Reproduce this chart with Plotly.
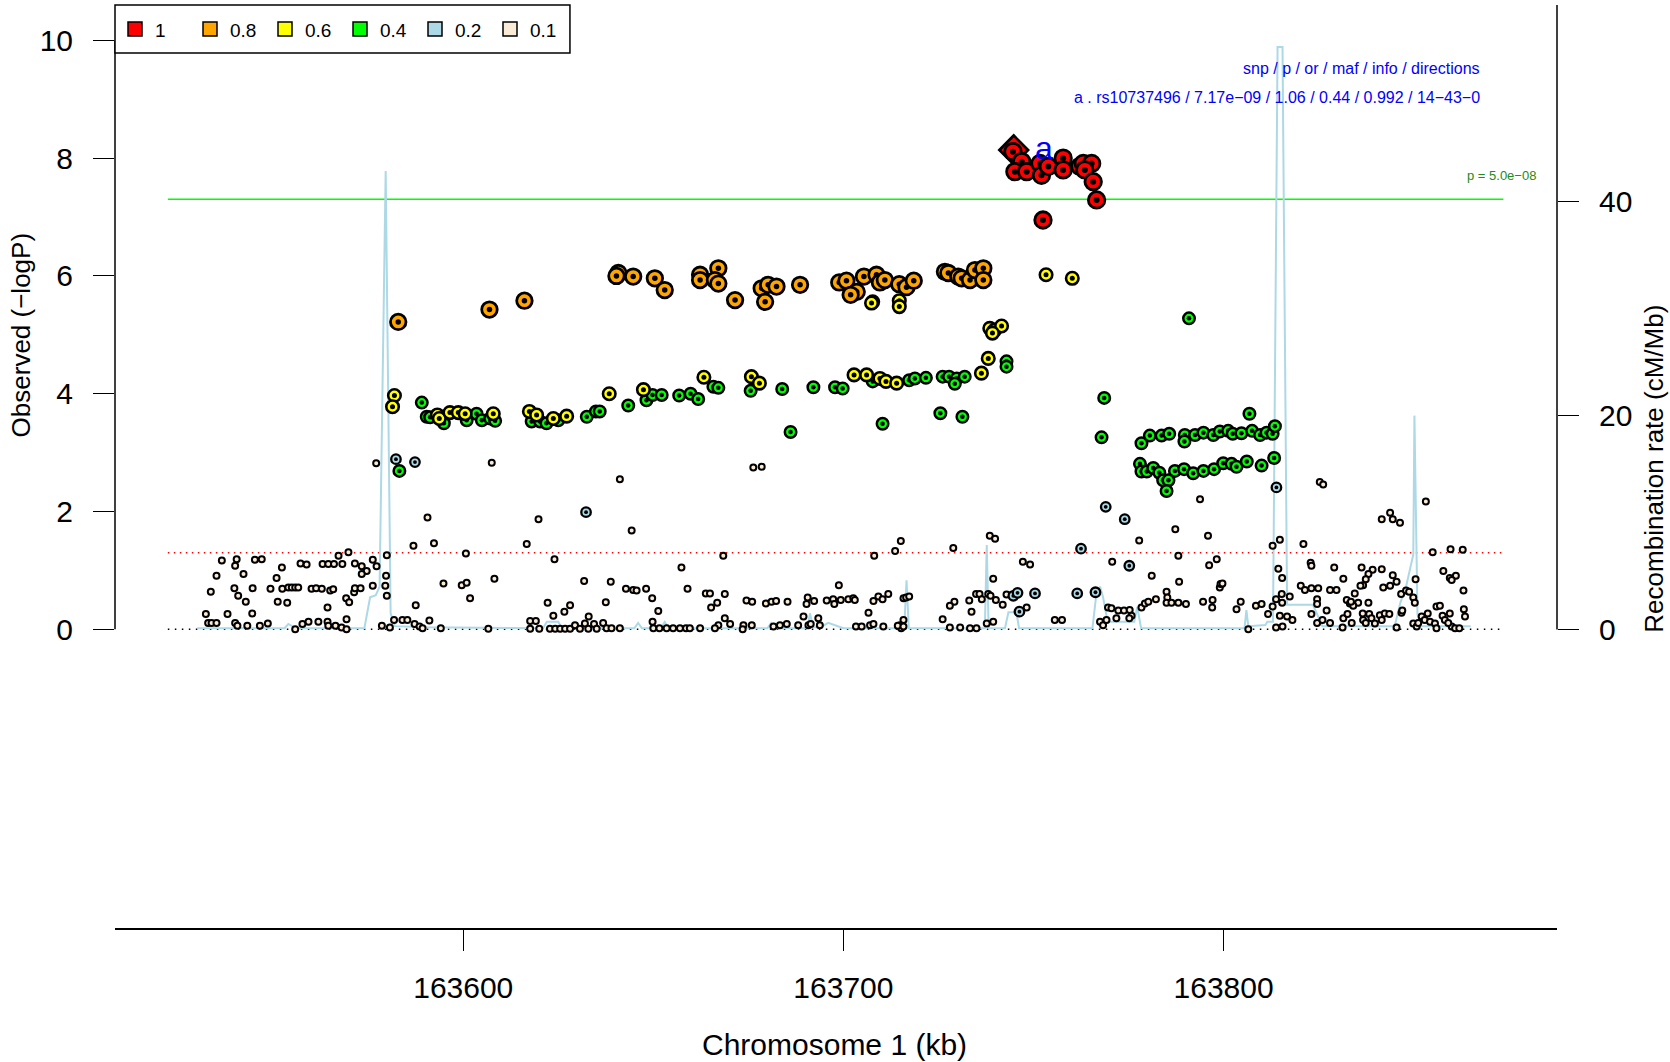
import plotly.graph_objects as go

# ---------------- data (kb positions, -log10 P) ----------------
index_kb = [163744.8]
index_lp = [8.14]

red_kb = [163744.6, 163746.9, 163745.1, 163748.2, 163751.7, 163752.1, 163753.9, 163757.8, 163757.8,
          163762.2, 163763.1, 163765.3, 163763.5, 163765.7, 163766.6, 163752.5]
red_lp = [8.11, 7.94, 7.77, 7.77, 7.91, 7.71, 7.86, 8.00, 7.80,
          7.86, 7.91, 7.91, 7.80, 7.60, 7.29, 6.95]

orange_kb = [163582.9, 163606.9, 163616.1,
             163640.8, 163640.3, 163644.7, 163650.4, 163653.0, 163662.3, 163662.3, 163667.1, 163666.2,
             163667.1, 163671.5, 163678.5, 163680.2, 163682.4, 163679.4, 163688.6, 163698.9, 163700.8,
             163703.5, 163701.9, 163705.4, 163708.7, 163709.6, 163710.9, 163714.7, 163716.6, 163718.5,
             163726.7, 163727.6, 163730.2, 163731.1, 163733.3, 163734.6, 163736.8, 163736.8]
orange_lp = [5.22, 5.43, 5.58,
             6.05, 6.00, 5.99, 5.96, 5.76, 6.02, 5.93, 6.13, 5.93,
             5.87, 5.59, 5.79, 5.85, 5.82, 5.56, 5.85, 5.89, 5.92,
             5.73, 5.68, 5.99, 6.02, 5.89, 5.93, 5.86, 5.81, 5.92,
             6.07, 6.05, 5.99, 5.96, 5.93, 6.10, 6.13, 5.93]

yellow_kb = [163581.9, 163581.4, 163593.2, 163593.7, 163596.5, 163598.7, 163600.5, 163607.9, 163617.4,
             163619.3, 163623.7, 163627.2, 163638.4, 163647.4, 163663.3, 163675.8, 163677.9, 163702.8,
             163706.1, 163709.6, 163711.2, 163714.0, 163736.3, 163738.1, 163738.5, 163739.8, 163741.6,
             163739.2, 163707.7, 163707.4, 163714.7, 163714.7, 163753.3, 163760.2]
yellow_lp = [3.97, 3.78, 3.64, 3.58, 3.68, 3.68, 3.66, 3.66, 3.70,
             3.64, 3.58, 3.62, 4.00, 4.07, 4.28, 4.29, 4.18, 4.32,
             4.32, 4.26, 4.21, 4.18, 4.35, 4.60, 5.11, 5.08, 5.15,
             5.03, 5.56, 5.54, 5.58, 5.48, 6.02, 5.96]

green_kb = [163583.2, 163589.1, 163590.4, 163591.3, 163594.9, 163600.9, 163603.5, 163604.9, 163607.1,
            163608.4, 163618.0, 163620.2, 163621.9, 163625.0, 163632.5, 163634.9, 163635.9, 163643.4,
            163648.2, 163649.8, 163652.2, 163656.8, 163659.8, 163661.8, 163665.8, 163667.1, 163675.6,
            163683.9, 163692.1, 163697.8, 163699.8, 163707.7, 163717.3, 163718.8, 163721.7, 163726.1,
            163727.8, 163729.8, 163731.9, 163729.3, 163686.1, 163710.3, 163725.5, 163731.3, 163742.9,
            163742.9, 163790.9, 163768.6, 163767.9,
            163778.4, 163780.6, 163783.7, 163785.7, 163789.8, 163789.7, 163792.5, 163794.7, 163797.3,
            163799.0, 163801.2, 163802.4, 163804.7, 163807.5, 163809.6, 163811.3, 163812.9, 163813.5,
            163806.8,
            163778.0, 163778.4, 163779.8, 163781.5, 163783.1, 163784.1, 163785.5, 163785.0, 163787.2,
            163789.6, 163792.0, 163794.7, 163797.5, 163799.9, 163802.1, 163803.4, 163806.1, 163810.0,
            163813.3]
green_lp = [2.69, 3.85, 3.61, 3.60, 3.50, 3.55, 3.66, 3.55, 3.58,
            3.54, 3.53, 3.53, 3.50, 3.55, 3.61, 3.70, 3.70, 3.80,
            3.89, 3.98, 3.98, 3.97, 4.00, 3.91, 4.12, 4.10, 4.05,
            4.08, 4.11, 4.11, 4.09, 4.21, 4.23, 4.26, 4.27, 4.29,
            4.29, 4.26, 4.29, 4.17, 3.35, 3.49, 3.67, 3.61, 4.55,
            4.46, 5.28, 3.93, 3.26,
            3.16, 3.29, 3.29, 3.32, 3.30, 3.19, 3.30, 3.34, 3.30,
            3.36, 3.37, 3.32, 3.33, 3.37, 3.30, 3.34, 3.32, 3.45,
            3.66,
            2.81, 2.68, 2.68, 2.74, 2.66, 2.53, 2.53, 2.35, 2.69,
            2.72, 2.65, 2.69, 2.72, 2.82, 2.81, 2.76, 2.85, 2.78,
            2.91]

lblue_kb = [163582.3, 163587.3, 163632.3, 163744.7, 163745.8, 163746.3, 163750.4, 163761.5, 163766.3,
            163762.5, 163775.2, 163769.0, 163774.0, 163813.9]
lblue_lp = [2.89, 2.84, 1.99, 0.57, 0.62, 0.30, 0.61, 0.61, 0.63,
            1.37, 1.08, 2.08, 1.87, 2.41]

low_kb = [
    163577.1, 163607.5, 163590.6, 163619.8, 163586.9, 163592.3, 163616.7, 163600.7, 163579.9, 163624.0,
    163569.8, 163567.2, 163536.5, 163540.4, 163540.0, 163545.2, 163547.0, 163535.1, 163542.2, 163552.3,
    163550.9, 163557.2, 163558.8, 163563.0, 163564.5, 163566.0, 163568.2, 163571.5, 163573.3, 163574.6,
    163576.2, 163577.2, 163573.3, 163579.7, 163579.5, 163579.9, 163533.6, 163539.8, 163540.8, 163544.6,
    163542.8, 163549.3, 163552.4, 163554.0, 163554.9, 163555.8, 163556.6, 163560.1, 163561.3, 163562.8,
    163565.0, 163565.8, 163551.2, 163553.7, 163564.3, 163569.2, 163570.0, 163571.3, 163571.5, 163573.0,
    163576.2, 163532.3, 163538.0, 163544.5, 163587.5, 163594.8, 163599.6, 163600.9, 163601.8, 163608.2,
    163606.6, 163622.2, 163623.7, 163626.6, 163628.1, 163631.8, 163633.0,
    163532.9, 163533.8, 163535.1, 163540.0, 163540.6, 163543.2, 163546.5, 163548.6, 163555.8, 163557.7,
    163559.3, 163561.9, 163564.3, 163564.5, 163566.4, 163568.0, 163569.3, 163569.3, 163578.6, 163580.7,
    163581.8, 163584.0, 163585.3, 163587.2, 163588.5, 163589.3, 163591.1, 163594.1, 163617.6, 163619.1,
    163617.6, 163620.0, 163622.8, 163624.2, 163625.5, 163626.8, 163628.1, 163629.4, 163630.7, 163632.0,
    163632.9, 163634.4, 163635.1,
    163641.2, 163644.3, 163676.3, 163678.5, 163668.4, 163657.4, 163638.8, 163637.5, 163642.8, 163644.7,
    163645.6, 163648.1, 163649.7, 163651.3, 163659.0, 163663.8, 163664.9, 163665.2, 163666.8, 163668.8,
    163668.8, 163670.2, 163667.1, 163666.2, 163674.5, 163676.0, 163679.6, 163681.1, 163682.3, 163685.3,
    163698.8, 163690.6, 163690.3, 163692.3, 163695.6, 163697.3, 163697.6, 163699.3, 163701.3, 163702.6,
    163703.0, 163707.9, 163709.2, 163710.3, 163711.8, 163706.6, 163708.1, 163713.6, 163715.1, 163715.8,
    163716.5, 163717.3, 163715.8, 163714.9, 163715.2, 163728.9, 163729.2, 163728.0, 163726.1, 163728.0,
    163730.7, 163733.3, 163735.0, 163733.1, 163733.7, 163734.9, 163735.8, 163736.4, 163738.1, 163738.7,
    163740.1, 163738.5, 163739.9, 163739.4, 163741.9, 163742.9, 163737.7, 163739.4, 163747.2, 163749.1,
    163748.2,
    163636.8, 163637.7, 163639.0, 163641.2, 163649.8, 163650.0, 163651.6, 163653.5, 163655.2, 163657.0,
    163658.6, 163659.6, 163662.3, 163673.7, 163673.5, 163675.9, 163681.6, 163683.3, 163685.1, 163688.1,
    163689.5, 163690.8, 163691.4, 163693.4, 163693.8, 163703.3, 163704.8, 163707.0, 163707.9, 163710.5,
    163714.3, 163715.8,
    163793.8, 163825.3, 163826.2, 163853.2, 163841.6, 163843.8, 163844.5, 163846.4, 163787.3, 163795.9,
    163777.8, 163812.9, 163814.8, 163821.0, 163855.0, 163859.7, 163862.9, 163770.7, 163788.1, 163796.2,
    163798.2, 163781.1, 163788.3, 163799.5, 163799.0, 163814.4, 163815.4, 163822.9, 163823.1, 163829.1,
    163831.5, 163836.3, 163839.2, 163841.6, 163838.1, 163837.4, 163836.7, 163836.0, 163842.0, 163843.8,
    163844.5, 163845.5, 163846.7, 163848.0, 163848.8, 163849.9, 163850.3, 163850.5, 163857.8, 163859.5,
    163861.1, 163860.0, 163863.1, 163820.3, 163821.4, 163823.1, 163824.9, 163828.0, 163829.7, 163834.5,
    163832.4, 163833.2, 163835.4, 163838.1, 163824.6, 163824.6, 163785.0, 163785.2, 163785.0, 163786.3,
    163788.1, 163790.1, 163794.6, 163797.1, 163797.0, 163799.2, 163799.7, 163778.4, 163779.3, 163780.2,
    163782.2, 163769.6, 163770.5, 163772.3, 163773.8, 163775.3, 163775.8, 163775.2, 163771.8, 163767.5,
    163768.3, 163769.2, 163755.6, 163757.5, 163804.5, 163803.4, 163808.5, 163810.0, 163811.7, 163812.9,
    163813.8, 163815.3, 163815.4, 163817.4, 163806.5, 163813.8, 163815.5, 163814.8, 163816.7, 163818.1,
    163823.1, 163824.6, 163826.0, 163827.1, 163828.0, 163831.3, 163831.5, 163832.6, 163833.7, 163834.1,
    163833.5, 163836.6, 163836.7, 163837.4, 163838.3, 163838.9, 163839.8, 163841.1, 163841.6, 163842.4,
    163843.6, 163845.5, 163846.8, 163847.0, 163849.9, 163850.8, 163851.2, 163852.1, 163852.9, 163853.7,
    163854.3, 163855.6, 163856.0, 163856.0, 163856.9, 163857.6, 163858.2, 163859.5, 163860.0, 163860.9,
    163862.0, 163863.2, 163863.5, 163859.1]
low_lp = [
    2.82, 2.83, 1.90, 1.87, 1.42, 1.46, 1.45, 1.29, 1.26, 1.19,
    1.31, 1.25, 1.17, 1.19, 1.08, 1.18, 1.19, 0.91, 0.94, 1.05,
    0.87, 1.12, 1.10, 1.11, 1.11, 1.11, 1.11, 1.12, 1.07, 0.99,
    1.18, 1.07, 0.94, 0.91, 0.74, 0.57, 0.64, 0.70, 0.57, 0.70,
    0.47, 0.69, 0.69, 0.71, 0.71, 0.71, 0.71, 0.69, 0.70, 0.69,
    0.66, 0.68, 0.47, 0.45, 0.37, 0.53, 0.46, 0.63, 0.70, 0.70,
    0.74, 0.26, 0.26, 0.27, 0.41, 0.78, 0.75, 0.79, 0.53, 0.86,
    0.01, 0.45, 0.23, 0.30, 0.41, 0.82, 0.22,
    0.11, 0.11, 0.11, 0.11, 0.06, 0.06, 0.06, 0.10, 0.00, 0.09,
    0.13, 0.13, 0.13, 0.06, 0.06, 0.03, 0.00, 0.17, 0.06, 0.03,
    0.16, 0.16, 0.16, 0.09, 0.05, 0.02, 0.15, 0.02, 0.14, 0.14,
    0.01, 0.01, 0.01, 0.01, 0.01, 0.01, 0.01, 0.07, 0.01, 0.10,
    0.01, 0.09, 0.01,
    2.55, 1.68, 2.75, 2.76, 1.25, 1.05, 0.81, 0.46, 0.69, 0.67,
    0.66, 0.69, 0.53, 0.31, 0.69, 0.61, 0.61, 0.37, 0.45, 0.60,
    0.19, 0.09, 0.07, 0.02, 0.49, 0.47, 0.44, 0.47, 0.48, 0.47,
    0.75, 0.54, 0.43, 0.48, 0.49, 0.51, 0.43, 0.50, 0.51, 0.53,
    0.50, 0.48, 0.56, 0.51, 0.60, 0.28, 1.25, 1.33, 1.50, 0.53,
    0.54, 0.56, 0.16, 0.07, 0.02, 1.38, 0.47, 0.40, 0.17, 0.03,
    0.03, 0.02, 0.02, 0.49, 0.30, 0.60, 0.60, 0.51, 0.60, 0.57,
    0.50, 1.59, 1.54, 0.86, 0.42, 0.59, 0.10, 0.13, 1.15, 1.10,
    0.37,
    0.11, 0.02, 0.02, 0.02, 0.13, 0.02, 0.02, 0.02, 0.02, 0.02,
    0.02, 0.02, 0.02, 0.07, 0.00, 0.07, 0.05, 0.07, 0.09, 0.07,
    0.22, 0.07, 0.09, 0.19, 0.07, 0.05, 0.05, 0.07, 0.09, 0.05,
    0.06, 0.05,
    2.21, 2.50, 2.46, 2.17, 1.87, 1.98, 1.87, 1.81, 1.70, 1.59,
    1.51, 1.42, 1.52, 1.45, 1.31, 1.36, 1.35, 1.15, 1.25, 1.09,
    1.19, 0.91, 0.81, 0.77, 0.71, 1.03, 0.87, 1.13, 1.08, 1.05,
    0.86, 1.05, 1.01, 1.02, 0.94, 0.85, 0.75, 0.74, 0.71, 0.74,
    0.92, 0.81, 0.60, 0.66, 0.64, 0.54, 0.45, 0.85, 0.99, 0.87,
    0.91, 0.84, 0.66, 0.74, 0.67, 0.70, 0.70, 0.67, 0.67, 0.61,
    0.50, 0.44, 0.45, 0.45, 0.51, 0.43, 0.64, 0.54, 0.45, 0.45,
    0.45, 0.43, 0.47, 0.50, 0.37, 0.77, 0.78, 0.37, 0.44, 0.47,
    0.51, 0.37, 0.36, 0.32, 0.32, 0.33, 0.23, 0.19, 0.19, 0.13,
    0.07, 0.16, 0.16, 0.16, 0.47, 0.34, 0.40, 0.43, 0.26, 0.39,
    0.51, 0.60, 0.45, 0.56, 0.00, 0.03, 0.05, 0.23, 0.22, 0.16,
    0.26, 0.11, 0.16, 0.32, 0.11, 0.03, 0.19, 0.26, 0.11, 0.40,
    0.47, 0.27, 0.16, 0.11, 0.26, 0.19, 0.10, 0.24, 0.16, 0.27,
    0.26, 0.03, 0.28, 0.32, 0.10, 0.05, 0.11, 0.22, 0.16, 0.27,
    0.13, 0.10, 0.02, 0.39, 0.40, 0.23, 0.16, 0.27, 0.05, 0.02,
    0.02, 0.34, 0.22, 0.11]

rec_kb = [163530, 163553, 163554, 163556, 163574, 163575.5, 163577, 163578, 163579.6, 163580.9,
          163582, 163590, 163621, 163622, 163625, 163626, 163645, 163646, 163647, 163652,
          163653, 163654, 163680, 163681, 163682, 163690.5, 163691.2, 163692, 163694, 163696,
          163700, 163716, 163716.6, 163717.2, 163737.2, 163737.7, 163738.2, 163742.5, 163743.4, 163745.5,
          163746.2, 163765.5, 163766.5, 163767.5, 163768.3, 163769.5, 163776.5, 163777.3, 163778.3, 163805.5,
          163806.0, 163806.5, 163811, 163811.5, 163813.0, 163814.2, 163815.5, 163816.7, 163823.5, 163826,
          163845, 163846.5, 163848, 163849.9, 163850.2, 163851, 163852, 163865]
rec_rate = [0.1, 0.1, 0.5, 0.1, 0.1, 3.0, 3.2, 4.0, 42.9, 1.5,
            0.3, 0.2, 0.1, 0.7, 0.7, 0.1, 0.1, 0.6, 0.1, 0.1,
            0.7, 0.1, 0.1, 0.6, 0.1, 0.1, 1.5, 0.2, 0.2, 0.6,
            0.1, 0.1, 4.6, 0.1, 0.1, 7.9, 0.1, 0.1, 1.6, 1.6,
            0.1, 0.1, 3.2, 4.0, 3.0, 0.7, 0.7, 2.1, 0.1, 0.1,
            1.8, 0.3, 0.4, 0.7, 0.7, 54.5, 54.5, 2.3, 2.3, 0.3,
            0.3, 2.5, 4.0, 7.0, 20.0, 1.4, 0.3, 0.3]

ld_labels = ["1", "0.8", "0.6", "0.4", "0.2", "0.1"]
ld_colors = ["#FF0000", "#FFA500", "#FFFF00", "#00FF00", "#ADD8E6", "#FAEBD7"]

sig_p = 7.30103      # -log10(5e-8)
sug_p = 1.30103      # -log10(0.05)
x_tick_vals = [163600, 163700, 163800]
x_tick_text = ["163600", "163700", "163800"]
line_span = [163522.3, 163873.6]

FONT = "Liberation Sans, Arial, Helvetica, sans-serif"


def ring_dot(kb, lp, fill, size, lw, dot):
    xs, ys, ss, cs, ws = [], [], [], [], []
    for a, b in zip(kb, lp):
        xs += [a, a]
        ys += [b, b]
        ss += [size, dot]
        cs += [fill, "black"]
        ws += [lw, 0]
    return go.Scatter(x=xs, y=ys, yaxis="y2", mode="markers", showlegend=False, hoverinfo="skip",
                      marker=dict(symbol="circle", size=ss, color=cs, opacity=1,
                                  line=dict(color="black", width=ws)))


fig = go.Figure()

# recombination rate (right axis, drawn underneath)
fig.add_trace(go.Scatter(x=rec_kb, y=rec_rate, yaxis="y", mode="lines", showlegend=False,
                         hoverinfo="skip", line=dict(color="#ADD8E6", width=2)))

# background SNPs
fig.add_trace(go.Scatter(x=low_kb, y=low_lp, yaxis="y2", mode="markers", showlegend=False,
                         hoverinfo="skip",
                         marker=dict(symbol="circle", size=6, color="#FAEBD7", opacity=1,
                                     line=dict(color="black", width=2))))
fig.add_trace(ring_dot(lblue_kb, lblue_lp, "#ADD8E6", 9.5, 2.3, 3.8))
fig.add_trace(ring_dot(green_kb, green_lp, "#00FF00", 11.5, 2.5, 4.5))
fig.add_trace(ring_dot(yellow_kb, yellow_lp, "#FFFF00", 12.5, 2.6, 5))
fig.add_trace(ring_dot(orange_kb, orange_lp, "#FFA500", 15.5, 2.8, 5.5))
fig.add_trace(go.Scatter(x=index_kb, y=index_lp, yaxis="y2", mode="markers", showlegend=False,
                         hoverinfo="skip",
                         marker=dict(symbol="diamond", size=22, color="#FF0000", opacity=1,
                                     line=dict(color="black", width=2.8))))
fig.add_trace(ring_dot(red_kb, red_lp, "#FF0000", 16.5, 2.8, 6))

# legend entries
for lab, col in zip(ld_labels, ld_colors):
    fig.add_trace(go.Scatter(x=[None], y=[None], yaxis="y2", mode="markers", name=lab,
                             marker=dict(symbol="square", size=14, color=col, opacity=1,
                                         line=dict(color="black", width=1.5))))

shapes = [
    dict(type="line", xref="x", yref="y2", x0=line_span[0], x1=line_span[1], y0=sig_p, y1=sig_p,
         line=dict(color="#00FF00", width=1.5), layer="below"),
    dict(type="line", xref="x", yref="y2", x0=line_span[0], x1=line_span[1], y0=sug_p, y1=sug_p,
         line=dict(color="#FF0000", width=1.5, dash="1.5px,4.5px"), layer="below"),
    dict(type="line", xref="x", yref="y2", x0=line_span[0], x1=line_span[1], y0=0, y1=0,
         line=dict(color="black", width=1.5, dash="1.5px,5.5px"), layer="below"),
    # left axis line (0..10)
    dict(type="line", xref="paper", yref="y2", x0=0, x1=0, y0=0, y1=10,
         line=dict(color="black", width=1.5)),
    # right axis line (0..top)
    dict(type="line", xref="paper", yref="paper", x0=1, x1=1, y0=0.3235, y1=1,
         line=dict(color="black", width=1.5)),
    # legend box
    dict(type="rect", xref="paper", yref="paper", x0=0, x1=0.3155, y0=0.948, y1=1.0,
         line=dict(color="black", width=1.5), fillcolor="white", layer="above"),
]

annotations = [
    dict(x=index_kb[0], y=index_lp[0], xref="x", yref="y2", text="a", showarrow=False,
         xshift=30, yshift=2, font=dict(family=FONT, size=32, color="#0000FF")),
    dict(x=0.9483, y=0.9317, xref="paper", yref="paper", xanchor="right", yanchor="middle",
         text="snp / p / or / maf / info / directions", showarrow=False,
         font=dict(family=FONT, size=16, color="#0000FF")),
    dict(x=0.9483, y=0.9003, xref="paper", yref="paper", xanchor="right", yanchor="middle",
         text="a . rs10737496 / 7.17e\u221209 / 1.06 / 0.44 / 0.992 / 14\u221243\u22120", showarrow=False,
         font=dict(family=FONT, size=16, color="#0000FF")),
    dict(x=0.9868, y=0.8151, xref="paper", yref="paper", xanchor="right", yanchor="middle",
         text="p = 5.0e\u221208", showarrow=False, font=dict(family=FONT, size=13, color="#228B22")),
    dict(x=-0.0652, y=0.642, xref="paper", yref="paper", textangle=-90, xanchor="center",
         yanchor="middle", text="Observed (\u2212logP)", showarrow=False,
         font=dict(family=FONT, size=26, color="black")),
    dict(x=1.0673, y=0.4977, xref="paper", yref="paper", textangle=-90, xanchor="center",
         yanchor="middle", text="Recombination rate (cM/Mb)", showarrow=False,
         font=dict(family=FONT, size=26, color="black")),
    dict(x=0.4993, y=-0.1257, xref="paper", yref="paper", xanchor="center", yanchor="middle",
         text="Chromosome 1 (kb)", showarrow=False, font=dict(family=FONT, size=30, color="black")),
]

fig.update_layout(
    width=1670, height=1062,
    margin=dict(l=115, r=113, t=5, b=134, autoexpand=False),
    paper_bgcolor="white", plot_bgcolor="white",
    font=dict(family=FONT, color="black"),
    xaxis=dict(range=[163508.4, 163887.7], showgrid=False, zeroline=False, showline=True,
               linecolor="black", linewidth=1.5, ticks="outside", ticklen=21, tickwidth=1.2,
               tickcolor="black", tickvals=x_tick_vals, ticktext=x_tick_text,
               tickfont=dict(family=FONT, size=30), ticklabelstandoff=11, automargin=False),
    yaxis=dict(range=[-27.95, 58.43], side="right", showgrid=False, zeroline=False, showline=False,
               ticks="outside", ticklen=21, tickwidth=1.2, tickcolor="black", tickvals=[0, 20, 40],
               tickfont=dict(family=FONT, size=30), ticklabelstandoff=14, automargin=False),
    yaxis2=dict(range=[-5.07, 10.60], overlaying="y", side="left", showgrid=False, zeroline=False,
                showline=False, ticks="outside", ticklen=21, tickwidth=1.2, tickcolor="black",
                tickvals=[0, 2, 4, 6, 8, 10], tickfont=dict(family=FONT, size=30),
                ticklabelstandoff=14, automargin=False),
    legend=dict(orientation="h", x=0.0, y=0.9737, xanchor="left", yanchor="middle",
                bgcolor="rgba(0,0,0,0)", borderwidth=0, font=dict(family=FONT, size=19),
                entrywidth=30, itemsizing="trace", traceorder="normal"),
    shapes=shapes, annotations=annotations,
)

fig.write_html("out.html", config={"displayModeBar": False},
               post_script="document.body.style.margin='0px';")
